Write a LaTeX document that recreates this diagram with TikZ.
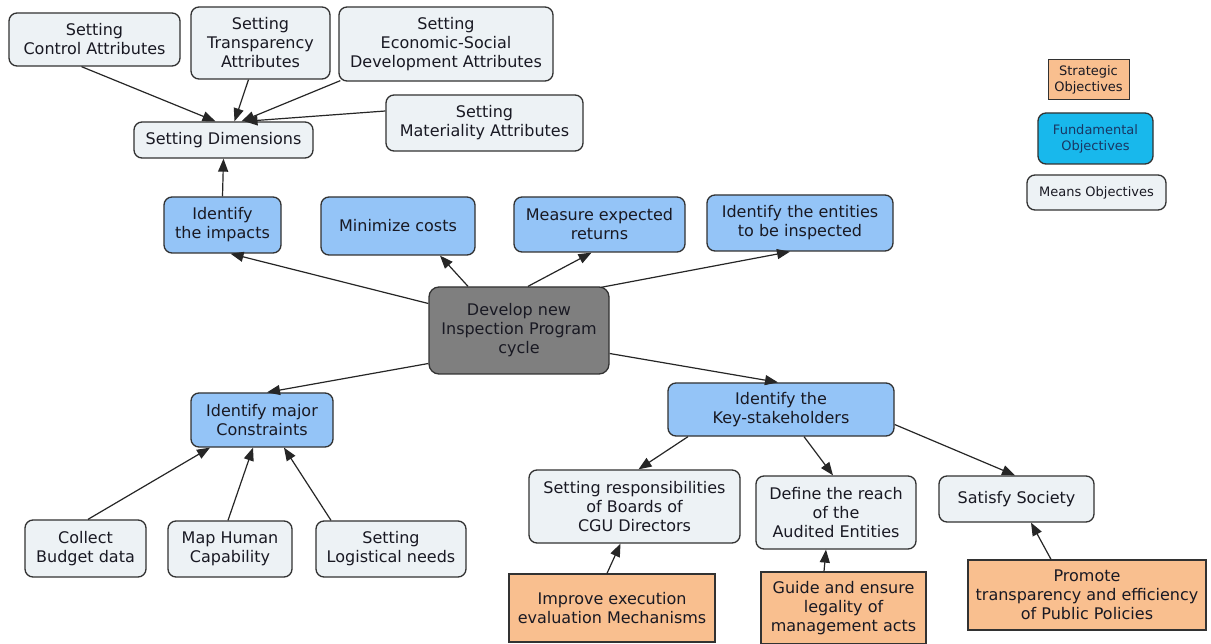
\documentclass[tikz,border=0pt]{standalone}
\usepackage{fontspec}
\setmainfont{DejaVu Sans}
\usetikzlibrary{arrows.meta,calc}
\definecolor{fundblue}{RGB}{148,196,247}
\definecolor{meansfill}{RGB}{237,242,245}
\definecolor{stratfill}{RGB}{249,191,143}
\definecolor{devgray}{RGB}{127,127,127}
\definecolor{legblue}{RGB}{24,184,236}
\definecolor{legtext}{RGB}{25,55,100}
\definecolor{boxline}{RGB}{50,50,50}
\definecolor{txt}{RGB}{25,25,35}
\tikzset{
  base/.style={draw=boxline, line width=1.3pt, align=center, inner sep=2pt, text=txt,
    font=\fontsize{16}{19}\selectfont},
  meansbox/.style={base, rounded corners=8pt, fill=meansfill},
  fundbox/.style={base, rounded corners=8pt, fill=fundblue},
  stratbox/.style={base, fill=stratfill},
  devbox/.style={base, rounded corners=10pt, fill=devgray},
  legfont/.style={font=\fontsize{13}{16}\selectfont},
  conn/.style={draw=black!85, line width=1.2pt, -{Triangle[length=13pt,width=10pt]}},
}
\begin{document}
\begin{tikzpicture}[x=1pt,y=-1pt]
\useasboundingbox[fill=white] (0,0) rectangle (1211,644);
% top means objectives
\node[meansbox, minimum width=171pt, minimum height=53pt] (ctrl) at (94.5,39.5) {Setting\\Control Attributes};
\node[meansbox, minimum width=139pt, minimum height=72pt] (transp) at (260.5,43) {Setting\\Transparency\\Attributes};
\node[meansbox, minimum width=214pt, minimum height=74pt] (econ) at (446,44) {Setting\\Economic-Social\\Development Attributes};
\node[meansbox, minimum width=197pt, minimum height=56pt] (mater) at (484.5,123) {Setting\\Materiality Attributes};
\node[meansbox, minimum width=179pt, minimum height=36pt] (dims) at (223.5,140) {Setting Dimensions};
% fundamental objectives row
\node[fundbox, minimum width=117pt, minimum height=56pt] (impacts) at (222.5,225) {Identify\\the impacts};
\node[fundbox, minimum width=154pt, minimum height=58pt] (mincost) at (398,226) {Minimize costs};
\node[fundbox, minimum width=171pt, minimum height=55pt] (measure) at (599.5,224.5) {Measure expected\\returns};
\node[fundbox, minimum width=186pt, minimum height=56pt] (entities) at (800,223) {Identify the entities\\to be inspected};
% central
\node[devbox, minimum width=180pt, minimum height=87pt] (develop) at (519,330.5) {Develop new\\Inspection Program\\cycle};
\node[fundbox, minimum width=142pt, minimum height=54pt] (constr) at (262,420) {Identify major\\Constraints};
\node[fundbox, minimum width=226pt, minimum height=53pt] (key) at (781,409.5) {Identify the\\Key-stakeholders};
% bottom-left means
\node[meansbox, minimum width=121pt, minimum height=57pt] (collect) at (85.5,548.5) {Collect\\Budget data};
\node[meansbox, minimum width=124pt, minimum height=56pt] (map) at (230,549) {Map Human\\Capability};
\node[meansbox, minimum width=150pt, minimum height=56pt] (logis) at (391,549) {Setting\\Logistical needs};
% bottom-right
\node[meansbox, minimum width=211pt, minimum height=73pt] (resp) at (634.5,506.5) {Setting responsibilities\\of Boards of\\CGU Directors};
\node[meansbox, minimum width=160pt, minimum height=73pt] (reach) at (836,512.5) {Define the reach\\of the\\Audited Entities};
\node[meansbox, minimum width=155pt, minimum height=46pt] (society) at (1016.5,499) {Satisfy Society};
\node[stratbox, minimum width=206pt, minimum height=68pt] (improve) at (612,608) {Improve execution\\evaluation Mechanisms};
\node[stratbox, minimum width=165pt, minimum height=72pt] (guide) at (843.5,608) {Guide and ensure\\legality of\\management acts};
\node[stratbox, minimum width=238pt, minimum height=70pt] (promote) at (1087,595) {Promote\\transparency and efficiency\\of Public Policies};
% legend
\node[stratbox, legfont, line width=1pt, minimum width=81pt, minimum height=40pt] (legstrat) at (1088.5,80) {Strategic\\Objectives};
\node[fundbox, legfont, fill=legblue, text=legtext, minimum width=115pt, minimum height=51pt] (legfund) at (1095.5,138.5) {Fundamental\\Objectives};
\node[meansbox, legfont, minimum width=139pt, minimum height=35pt] (legmeans) at (1096.5,192.5) {Means Objectives};
% connectors to Setting Dimensions
\draw[conn] ($(ctrl.south)+(-13,0)$) -- ($(dims.north)+(-8,0)$);
\draw[conn] ($(transp.south)+(-12,0)$) -- ($(dims.north)+(11,0)$);
\draw[conn] ($(econ.south west)+(2,-1)$) -- ($(dims.north)+(18,0)$);
\draw[conn] ($(mater.west)+(0,-12)$) -- ($(dims.north)+(21,0)$);
\draw[conn] (impacts.north) -- (dims.south);
% from develop
\draw[conn] ($(develop.west)+(0,-27)$) -- ($(impacts.south)+(8,0)$);
\draw[conn] ($(develop.north)+(-51,0)$) -- ($(mincost.south)+(42,0)$);
\draw[conn] ($(develop.north)+(9,0)$) -- ($(measure.south)+(-8,0)$);
\draw[conn] ($(develop.north)+(82,1)$) -- ($(entities.south)+(-10,0)$);
\draw[conn] ($(develop.west)+(0,33)$) -- ($(constr.north)+(5,0)$);
\draw[conn] ($(develop.east)+(0,23)$) -- ($(key.north)+(-3,0)$);
% to constraints
\draw[conn] ($(collect.north)+(2.5,0)$) -- ($(constr.south)+(-52,0)$);
\draw[conn] ($(map.north)+(-2,0)$) -- ($(constr.south)+(-9,0)$);
\draw[conn] ($(logis.north)+(-60,0)$) -- ($(constr.south)+(22,0)$);
% key-stakeholders
\draw[conn] ($(key.south)+(-93,0)$) -- ($(resp.north)+(4,0)$);
\draw[conn] ($(key.south)+(23,0)$) -- ($(reach.north)+(-3,0)$);
\draw[conn] ($(key.east)+(0,15)$) -- ($(society.north)+(-1.5,0)$);
% strategic to means
\draw[conn] ($(improve.north)+(-5,0)$) -- ($(resp.south)+(-14,0)$);
\draw[conn] ($(guide.north)+(-19.5,0)$) -- ($(reach.south)+(-10,0)$);
\draw[conn] ($(promote.north)+(-36,0)$) -- ($(society.south)+(14.5,0)$);
\end{tikzpicture}
\end{document}
